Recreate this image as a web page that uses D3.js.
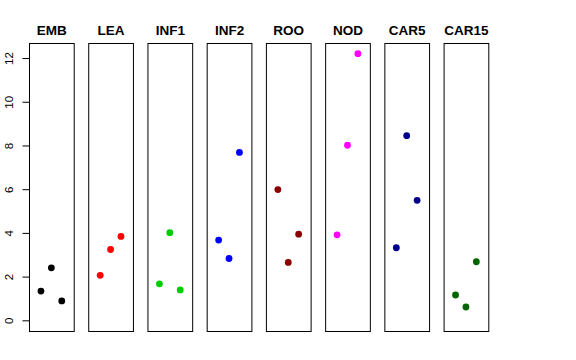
<!DOCTYPE html>
<html><head><meta charset="utf-8">
<script src="https://cdn.jsdelivr.net/npm/d3@7"></script>
<style>body{margin:0;background:#fff;} svg{display:block;}</style>
</head><body>
<script>
const categories = ["EMB","LEA","INF1","INF2","ROO","NOD","CAR5","CAR15"];
const colors = ["#000000","#FF0000","#00CD00","#0000FF","#8B0000","#FF00FF","#00008B","#006400"];
const rep1 = [1.34, 2.06, 1.67, 3.67, 5.98, 3.91, 3.32, 1.16];
const rep2 = [2.40, 3.24, 4.01, 2.83, 2.65, 8.01, 8.45, 0.61];
const rep3 = [0.89, 3.84, 1.39, 7.68, 3.94, 12.2, 5.49, 2.68];
const yTicks = [0, 2, 4, 6, 8, 10, 12];

const W = 576, H = 360;
const svg = d3.select("body").append("svg").attr("width", W).attr("height", H);

const plotTop = 43, plotBottom = 331;
const yMin = 0, yMax = 12.2, pad = (yMax - yMin) * 0.04;
const y = d3.scaleLinear().domain([yMin - pad, yMax + pad]).range([plotBottom, plotTop]);

const panelX = d3.scaleBand().domain(categories).range([29, 488.3]).paddingInner(0.245).paddingOuter(0);
const panelW = panelX.bandwidth();
const xIn = d3.scaleLinear().domain([-0.15, 4.15]).range([0, panelW]);

categories.forEach((cat, i) => {
  const g = svg.append("g").attr("transform", `translate(${panelX(cat)},0)`);
  g.append("rect").attr("x", 0.5).attr("y", plotTop + 0.5).attr("width", panelW).attr("height", plotBottom - plotTop)
    .attr("fill", "none").attr("stroke", "#000").attr("stroke-width", 1);
  const vals = [rep1[i], rep2[i], rep3[i]];
  g.selectAll("circle").data(vals).enter().append("circle")
    .attr("cx", (d, j) => xIn(j + 1))
    .attr("cy", d => y(d))
    .attr("r", 3.4)
    .attr("fill", colors[i]);
  g.append("text").attr("x", panelW/2 + 0.5).attr("y", 35)
    .attr("text-anchor", "middle")
    .attr("font-family", "Liberation Sans, Arial, sans-serif")
    .attr("font-weight", "bold").attr("font-size", "13.5px")
    .text(cat);
});

const axisG = svg.append("g").attr("transform", "translate(29.5,0)");
axisG.append("line").attr("x1", 0).attr("x2", 0).attr("y1", y(0)).attr("y2", y(12)).attr("stroke", "#000");
const yAxis = d3.axisLeft(y).tickValues(yTicks).tickSize(7).tickPadding(0).tickFormat(d3.format("d"));
axisG.call(yAxis);
axisG.select(".domain").remove();
axisG.selectAll(".tick line").attr("stroke", "#000");
axisG.selectAll(".tick text")
  .attr("font-family", "Liberation Sans, Arial, sans-serif")
  .attr("font-size", "11.5px").attr("fill", "#000")
  .attr("text-anchor", "middle")
  .attr("dominant-baseline", "central")
  .attr("dy", null)
  .attr("x", 0)
  .attr("transform", "translate(-20.5,0) rotate(-90)");
</script>
</body></html>
